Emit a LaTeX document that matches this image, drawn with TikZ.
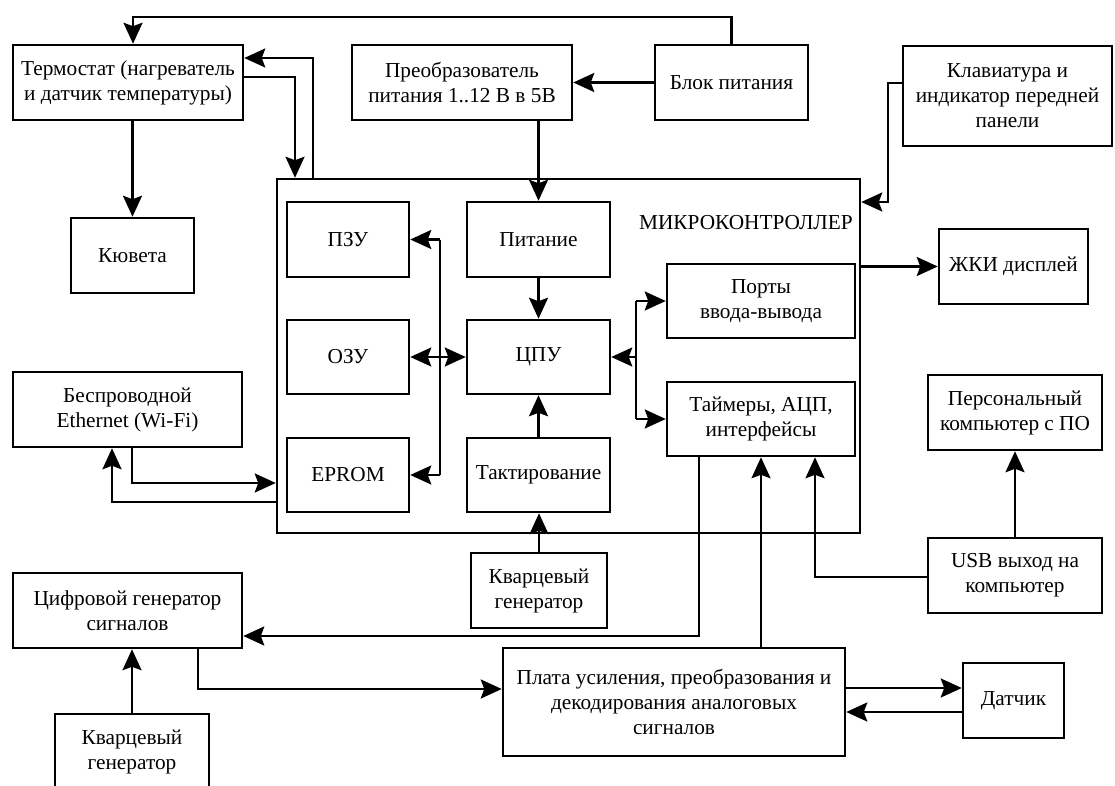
\documentclass[tikz,border=0pt]{standalone}
\usepackage{fontspec}
\setmainfont{Liberation Serif}
\usetikzlibrary{arrows.meta}
\tikzset{
  box/.style={draw, line width=2.5pt, align=center, inner sep=0pt, font=\fontsize{21.3}{25}\selectfont, text=black},
  myhead/.tip={Stealth[length=21pt 0 0,width=19pt 0 0,inset=3.5pt 0]},
  arr/.style={line width=2.5pt, line join=miter, -myhead},
  darr/.style={line width=2.5pt, line join=miter, myhead-myhead},
  ln/.style={line width=2.5pt, line join=miter},
}
\begin{document}
\begin{tikzpicture}[x=1pt,y=-1pt]
\useasboundingbox (0,0) rectangle (1115,786);
% outer boxes
\node[box, minimum width=230, minimum height=75] (term) at (128,82.5) {Термостат (нагреватель\\и датчик температуры)};
\node[box, minimum width=123, minimum height=75] (kuv) at (132.5,255.5) {Кювета};
\node[box, minimum width=220, minimum height=75] (preo) at (462,82.5) {Преобразователь\\питания 1..12 В в 5В};
\node[box, minimum width=153, minimum height=75] (blok) at (731.5,82.5) {Блок питания};
\node[box, minimum width=209, minimum height=100] (klav) at (1007.5,96) {Клавиатура и\\индикатор передней\\панели};
\node[box, minimum width=583, minimum height=354] (mk) at (568.5,356) {};
\node[anchor=east, inner sep=0pt, font=\fontsize{21.3}{25}\selectfont] (mklabel) at (853,223) {МИКРОКОНТРОЛЛЕР};
% inner boxes
\node[box, minimum width=122, minimum height=75] (pzu) at (348,239.5) {ПЗУ};
\node[box, minimum width=122, minimum height=74] (ozu) at (348,357) {ОЗУ};
\node[box, minimum width=122, minimum height=74] (eprom) at (348,475) {EPROM};
\node[box, minimum width=143, minimum height=75] (pit) at (538.5,239.5) {Питание};
\node[box, minimum width=143, minimum height=74] (cpu) at (538.5,357) {ЦПУ};
\node[box, minimum width=143, minimum height=74] (takt) at (538.5,475) {Тактирование};
\node[box, minimum width=188, minimum height=74] (ports) at (761,301) {Порты\\ввода-вывода};
\node[box, minimum width=188, minimum height=74] (timers) at (761,419) {Таймеры, АЦП,\\интерфейсы};
% right side
\node[box, minimum width=149, minimum height=75] (lcd) at (1013.5,266.5) {ЖКИ дисплей};
\node[box, minimum width=174, minimum height=75] (pc) at (1015,412.5) {Персональный\\компьютер с ПО};
\node[box, minimum width=174, minimum height=75] (usb) at (1015,575.5) {USB выход на\\компьютер};
% left side
\node[box, minimum width=229, minimum height=75] (wifi) at (127.5,409.5) {Беспроводной\\Ethernet (Wi-Fi)};
\node[box, minimum width=229, minimum height=75] (dgen) at (127.5,610.5) {Цифровой генератор\\сигналов};
\node[box, minimum width=154, minimum height=75] (kvl) at (132,751.5) {Кварцевый\\генератор};
% bottom
\node[box, minimum width=136, minimum height=75] (kvm) at (539,590.5) {Кварцевый\\генератор};
\node[box, minimum width=342, minimum height=108] (plata) at (674,702) {Плата усиления, преобразования и\\декодирования аналоговых\\сигналов};
\node[box, minimum width=101, minimum height=75] (dat) at (1013.5,700.5) {Датчик};

% coordinates
\coordinate (topl) at (0,17);
\coordinate (t1) at (295,77);
\coordinate (t2) at (313,58);
\coordinate (k1) at (888,83);
\coordinate (k2) at (888,202);
\coordinate (bx) at (440,0);
\coordinate (px) at (636,0);
\coordinate (w1) at (132,483);
\coordinate (w2) at (112,502);
\coordinate (g1) at (699,636);
\coordinate (u1) at (815,577);
\coordinate (d1) at (198,689);
\coordinate (s1) at (0,688);
\coordinate (s2) at (0,712);

% connectors
\draw[arr] (blok.north) -- (blok.north |- topl) -| ([xshift=5pt]term.north);
\draw[arr] (term.south -| kuv.north) -- (kuv.north);
\draw[arr] (blok.west) -- (preo.east);
\draw[arr] (preo.south -| pit.north) -- (pit.north);
\draw[arr] (term.east |- t1) -| (mk.north -| t1);
\draw[arr] (mk.north -| t2) |- (term.east |- t2);
\draw[arr] (klav.west |- k1) -- (k1) -- (k2) -- (mk.east |- k2);
\draw[arr] (mk.east |- lcd.west) -- (lcd.west);
% left bus
\draw[ln] (bx |- pzu.east) -- (bx |- eprom.east);
\draw[arr] (bx |- pzu.east) -- (pzu.east);
\draw[arr] (bx |- eprom.east) -- (eprom.east);
\draw[darr] (ozu.east) -- (cpu.west);
% cpu column
\draw[arr] (pit.south) -- (cpu.north);
\draw[arr] (takt.north) -- (cpu.south);
\draw[arr] (kvm.north) -- (kvm.north |- takt.south);
% right bus
\draw[ln] (px |- ports.west) -- (px |- timers.west);
\draw[arr] (px |- cpu.east) -- (cpu.east);
\draw[arr] (px |- ports.west) -- (ports.west);
\draw[arr] (px |- timers.west) -- (timers.west);
% wifi
\draw[arr] (wifi.south -| w1) |- (mk.west |- w1);
\draw[arr] (mk.west |- w2) -| (wifi.south -| w2);
% timers and generators
\draw[arr] (timers.south -| g1) |- (dgen.east |- g1);
\draw[arr] (plata.north -| timers.south) -- (timers.south);
\draw[arr] (usb.west |- u1) -| (timers.south -| u1);
\draw[arr] (usb.north) -- (pc.south);
\draw[arr] (dgen.south -| d1) |- (plata.west |- d1);
\draw[arr] (kvl.north) -- (dgen.south -| kvl.north);
\draw[arr] (plata.east |- s1) -- (dat.west |- s1);
\draw[arr] (dat.west |- s2) -- (plata.east |- s2);
\end{tikzpicture}
\end{document}
